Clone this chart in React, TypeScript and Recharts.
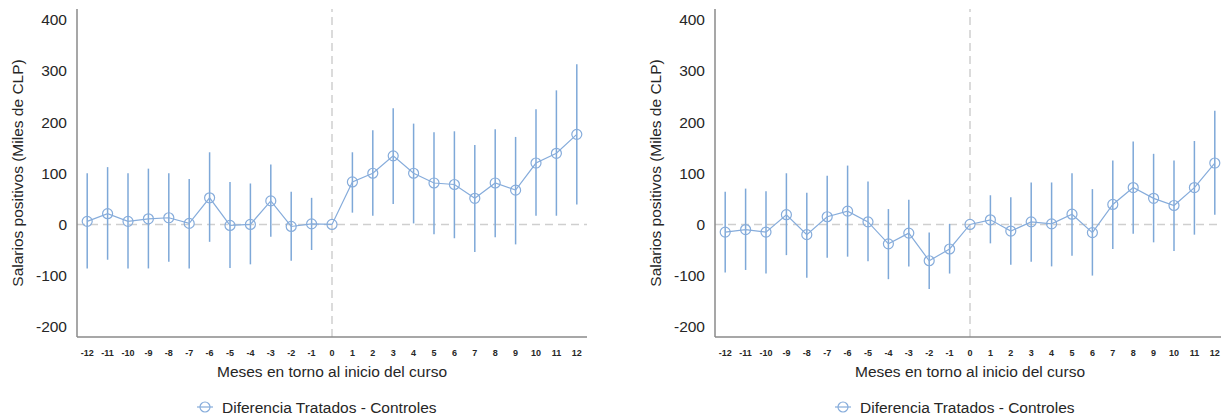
import React from 'react'
import {
  ComposedChart,
  Line,
  ErrorBar,
  XAxis,
  YAxis,
  ReferenceLine,
} from 'recharts'

const months = [-12, -11, -10, -9, -8, -7, -6, -5, -4, -3, -2, -1, 0, 1, 2, 3, 4, 5, 6, 7, 8, 9, 10, 11, 12]
const yTicks = [-200, -100, 0, 100, 200, 300, 400]

// panel izquierdo
const leftCoef = [6, 21, 6, 11, 13, 2, 52, -2, 0, 46, -4, 1, 0, 83, 100, 134, 100, 81, 78, 51, 81, 67, 120, 139, 176]
const leftLow = [-86, -69, -86, -86, -73, -86, -34, -85, -78, -24, -71, -50, 0, 23, 17, 40, 2, -19, -27, -54, -25, -39, 17, 17, 39]
const leftHigh = [100, 112, 100, 109, 100, 89, 141, 83, 80, 117, 64, 52, 0, 141, 184, 227, 197, 180, 182, 155, 186, 171, 225, 262, 313]

// panel derecho
const rightCoef = [-15, -10, -15, 19, -20, 15, 26, 5, -38, -17, -71, -48, 0, 9, -13, 5, 1, 20, -16, 39, 72, 51, 37, 72, 120]
const rightLow = [-94, -89, -96, -60, -104, -65, -63, -72, -107, -82, -126, -96, 0, -37, -79, -73, -82, -61, -100, -48, -18, -35, -52, -20, 19]
const rightHigh = [64, 70, 65, 100, 62, 95, 115, 84, 30, 48, -16, 1, 0, 57, 53, 82, 82, 100, 69, 125, 162, 138, 125, 163, 222]

const SERIES_NAME = 'Diferencia Tratados - Controles'
const FONT = '"Liberation Sans", Arial, sans-serif'
const LINE_COLOR = '#86acdb'
const BAR_COLOR = '#7ea8d8'
const AXIS_COLOR = '#8a8a8a'
const TEXT_COLOR = '#262626'

function buildRows(coef: number[], low: number[], high: number[]) {
  return months.map((m, i) => ({
    mes: m,
    coef: coef[i],
    err: [coef[i] - low[i], high[i] - coef[i]],
  }))
}

function LegendBox({ left }: { left: number }) {
  return (
    <svg width={260} height={20} style={{ position: 'absolute', left, top: 398, overflow: 'visible' }}>
      <line x1={0} y1={9} x2={16} y2={9} stroke={LINE_COLOR} strokeWidth={1.2} />
      <circle cx={8} cy={9} r={5} fill="none" stroke={LINE_COLOR} strokeWidth={1.2} />
      <text x={25} y={14.5} fontSize={15.5} fill={TEXT_COLOR} fontFamily={FONT}>
        {SERIES_NAME}
      </text>
    </svg>
  )
}

function Panel({ coef, low, high, left }: { coef: number[]; low: number[]; high: number[]; left: number }) {
  const rows = buildRows(coef, low, high)
  return (
    <div style={{ position: 'absolute', left, top: 0 }}>
      <ComposedChart width={600} height={417} data={rows} margin={{ top: 9, right: 13, bottom: 0, left: 0 }}>
        <XAxis
          dataKey="mes"
          type="number"
          domain={[-12.5, 12.5]}
          ticks={months}
          interval={0}
          height={80}
          axisLine={{ stroke: AXIS_COLOR, strokeWidth: 1.5 }}
          tickLine={false}
          tickMargin={7}
          tick={{ fontSize: 9, fontWeight: 'bold', fill: TEXT_COLOR, fontFamily: FONT }}
          label={{ value: 'Meses en torno al inicio del curso', position: 'insideBottom', offset: 40, fontSize: 15.5, fill: TEXT_COLOR, fontFamily: FONT }}
        />
        <YAxis
          type="number"
          domain={[-220, 421]}
          ticks={yTicks}
          allowDataOverflow
          width={77}
          axisLine={{ stroke: AXIS_COLOR, strokeWidth: 1.5 }}
          tickLine={false}
          tickMargin={4}
          tick={{ fontSize: 15.5, fill: TEXT_COLOR, fontFamily: FONT }}
          label={{
            content: () => (
              <text
                x={17}
                y={173}
                transform="rotate(-90 17 173)"
                textAnchor="middle"
                dominantBaseline="central"
                fontSize={15.5}
                fill={TEXT_COLOR}
                fontFamily={FONT}
              >
                Salarios positivos (Miles de CLP)
              </text>
            ),
          }}
        />
        <ReferenceLine y={0} stroke="#cfcfcf" strokeWidth={1.5} strokeDasharray="8 5" />
        <ReferenceLine x={0} stroke="#cfcfcf" strokeWidth={1.5} strokeDasharray="8 5" />
        <Line
          dataKey="coef"
          name={SERIES_NAME}
          stroke={LINE_COLOR}
          strokeWidth={1.2}
          dot={{ r: 5, fill: 'none', stroke: LINE_COLOR, strokeWidth: 1.2 }}
          activeDot={false}
          isAnimationActive={false}
        >
          <ErrorBar dataKey="err" direction="y" width={0} stroke={BAR_COLOR} strokeWidth={1.5} isAnimationActive={false} />
        </Line>
      </ComposedChart>
      <LegendBox left={197} />
    </div>
  )
}

export default function App() {
  return (
    <div style={{ position: 'absolute', left: 0, top: 0, width: 1221, height: 417, overflow: 'hidden', background: '#fff' }}>
      <Panel coef={leftCoef} low={leftLow} high={leftHigh} left={0} />
      <Panel coef={rightCoef} low={rightLow} high={rightHigh} left={638} />
    </div>
  )
}
